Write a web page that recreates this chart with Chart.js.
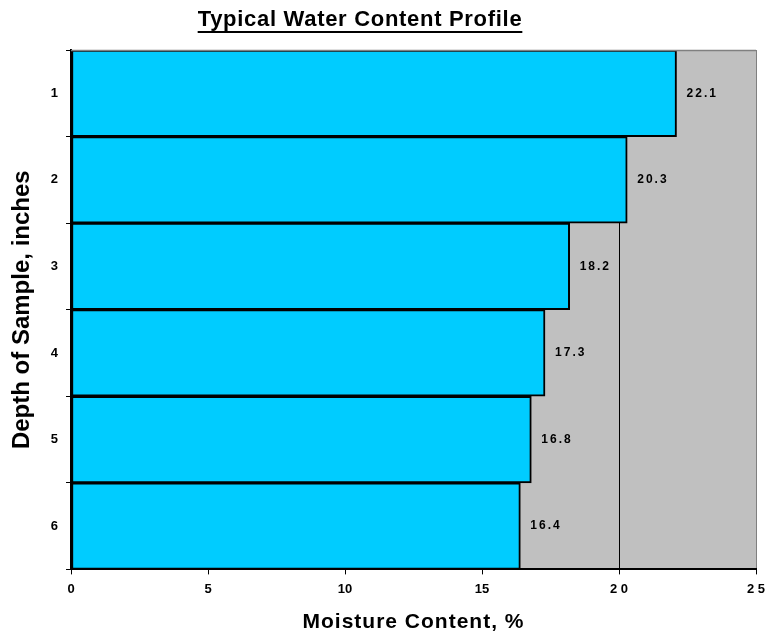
<!DOCTYPE html>
<html>
<head>
<meta charset="utf-8">
<script src="https://cdn.jsdelivr.net/npm/chart.js@4.4.1/dist/chart.umd.min.js"></script>
<style>
  body { margin: 0; background: #fff; }
  canvas { display: block; }
</style>
</head>
<body>
<canvas id="profileChart" width="767" height="638"></canvas>
<script>
var depths = ['1', '2', '3', '4', '5', '6'];
var moisture = [22.1, 20.3, 18.2, 17.3, 16.8, 16.4];
var xTicks = [0, 5, 10, 15, 20, 25];

var sans = '"Liberation Sans", Arial, sans-serif';

// grey plot background, grey top border, underlined title, x title, value labels
var plotDecor = {
    id: 'plotDecor',
    beforeDraw: function(chart) {
        var a = chart.chartArea, ctx = chart.ctx;
        ctx.save();
        ctx.fillStyle = '#C0C0C0';
        ctx.fillRect(a.left, a.top, a.right - a.left, a.bottom - a.top);
        ctx.restore();
    },
    afterDraw: function(chart) {
        var a = chart.chartArea, ctx = chart.ctx;
        ctx.save();
        ctx.strokeStyle = '#808080';
        ctx.lineWidth = 1.5;
        ctx.beginPath();
        ctx.moveTo(a.left, a.top + 0.5);
        ctx.lineTo(a.right, a.top + 0.5);
        ctx.stroke();

        ctx.fillStyle = '#000';
        ctx.textBaseline = 'alphabetic';
        ctx.textAlign = 'center';

        // title
        var title = 'Typical Water Content Profile';
        ctx.font = 'bold 22px ' + sans;
        if ('letterSpacing' in ctx) ctx.letterSpacing = '0.7px';
        var cx = 360;
        ctx.fillText(title, cx, 26);
        var w = ctx.measureText(title).width;
        ctx.lineWidth = 2;
        ctx.strokeStyle = '#000';
        ctx.beginPath();
        ctx.moveTo(cx - w / 2, 32);
        ctx.lineTo(cx + w / 2, 32);
        ctx.stroke();

        // x axis title
        ctx.font = 'bold 21px ' + sans;
        if ('letterSpacing' in ctx) ctx.letterSpacing = '1px';
        ctx.textBaseline = 'middle';
        ctx.fillText('Moisture Content, %', (a.left + a.right) / 2, 622);

        // value labels to the right of each bar
        var meta = chart.getDatasetMeta(0);
        ctx.font = 'bold 12px ' + sans;
        ctx.textAlign = 'left';
        if ('letterSpacing' in ctx) ctx.letterSpacing = '2px';
        meta.data.forEach(function(bar, i) {
            ctx.fillText(moisture[i].toFixed(1), bar.x + 10, bar.y);
        });
        ctx.restore();
    }
};

var ctx = document.getElementById('profileChart').getContext('2d');
var chart = new Chart(ctx, {
    type: 'bar',
    data: {
        labels: depths,
        datasets: [{
            data: moisture,
            backgroundColor: '#00CCFF',
            borderColor: '#000',
            borderWidth: 2,
            borderSkipped: false,
            barPercentage: 1,
            categoryPercentage: 1
        }]
    },
    options: {
        indexAxis: 'y',
        responsive: false,
        animation: false,
        layout: { padding: { top: 50, right: 0, left: 8, bottom: 34 } },
        plugins: {
            legend: { display: false },
            tooltip: { enabled: false }
        },
        scales: {
            x: {
                min: 0,
                max: 25,
                afterBuildTicks: function(scale) {
                    scale.ticks = xTicks.map(function(v) { return { value: v }; });
                },
                afterFit: function(scale) {
                    scale.paddingRight = 11;
                },
                grid: {
                    color: function(c) { return c.tick && c.tick.value === 25 ? '#808080' : '#000'; },
                    lineWidth: 1,
                    tickLength: 5,
                    tickColor: '#000'
                },
                border: { color: '#000', width: 2 },
                ticks: {
                    color: '#000',
                    font: { family: sans, size: 13, weight: 'bold' },
                    padding: 7,
                    callback: function(v) { return v >= 20 ? String(v).split('').join(' ') : String(v); }
                }
            },
            y: {
                grid: {
                    offset: true,
                    drawOnChartArea: false,
                    tickLength: 5,
                    tickColor: '#000'
                },
                border: { color: '#000', width: 2 },
                ticks: {
                    color: '#000',
                    font: { family: sans, size: 13, weight: 'bold' },
                    padding: 8
                },
                title: {
                    display: true,
                    text: 'Depth of Sample, inches',
                    color: '#000',
                    font: { family: sans, size: 24, weight: 'bold' },
                    padding: { top: 0, bottom: 6 }
                }
            }
        }
    },
    plugins: [plotDecor]
});
</script>
</body>
</html>
